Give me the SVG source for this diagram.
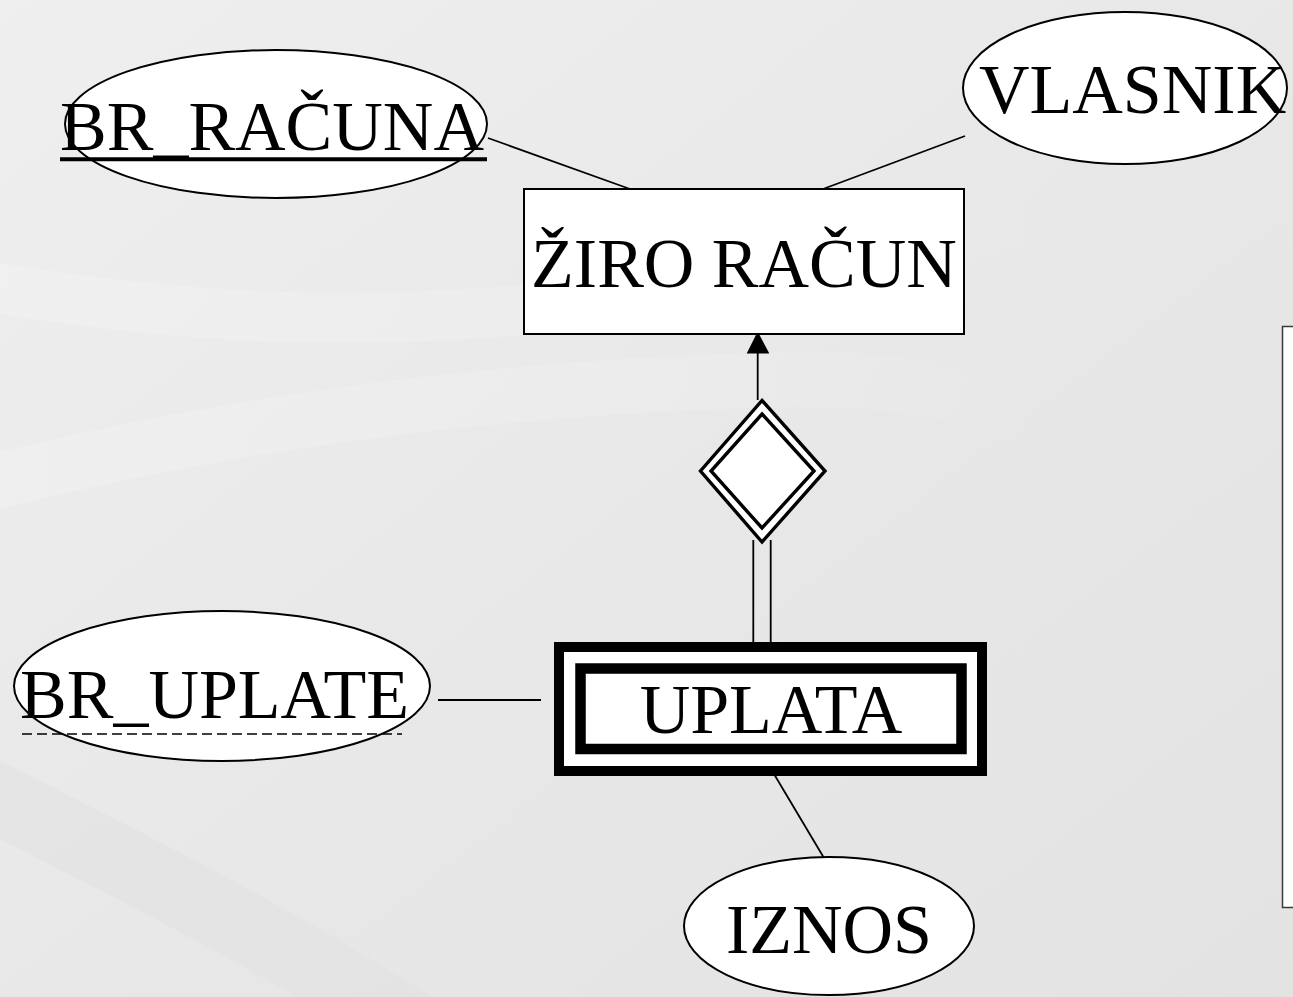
<svg xmlns="http://www.w3.org/2000/svg" width="1293" height="997" viewBox="0 0 1293 997">
  <defs>
    <linearGradient id="bgGrad" x1="0" y1="0" x2="1" y2="1">
      <stop offset="0" stop-color="#efefef"/>
      <stop offset="0.5" stop-color="#e8e8e8"/>
      <stop offset="1" stop-color="#e3e3e3"/>
    </linearGradient>
    <linearGradient id="fadeRight" x1="0" y1="0" x2="1" y2="0">
      <stop offset="0" stop-color="#f2f2f2" stop-opacity="1"/>
      <stop offset="0.7" stop-color="#f2f2f2" stop-opacity="0.5"/>
      <stop offset="1" stop-color="#f2f2f2" stop-opacity="0"/>
    </linearGradient>
    <style>
      .lbl { font-family: "Liberation Serif", "Times New Roman", serif; font-size: 70px; fill: #000; }
      .attr { fill: #fff; stroke: #000; stroke-width: 2; }
      .ent { fill: #fff; stroke: #000; stroke-width: 2; }
      .link { stroke: #000; stroke-width: 1.8; fill: none; }
      .swoosh { fill: none; stroke-linecap: butt; }
    </style>
  </defs>

  <!-- slide background with soft swooshes -->
  <g id="background">
    <rect x="0" y="0" width="1293" height="997" fill="url(#bgGrad)"/>
    <path class="swoosh" d="M -20 285 C 180 320 380 330 620 300 C 760 285 900 250 1050 215" stroke="url(#fadeRight)" stroke-width="50" opacity="0.6"/>
    <path class="swoosh" d="M -20 485 C 200 430 450 390 760 380 C 880 376 960 390 1040 420" stroke="url(#fadeRight)" stroke-width="55" opacity="0.55"/>
    <path class="swoosh" d="M -40 780 C 120 860 260 930 420 1030" stroke="#dfdfdf" stroke-width="70" opacity="0.45"/>
  </g>

  <!-- connectors -->
  <g id="connectors">
    <line class="link" x1="488" y1="138" x2="630" y2="189"/>
    <line class="link" x1="965" y1="136" x2="823" y2="189"/>
    <line class="link" x1="438" y1="700" x2="541" y2="700"/>
    <line class="link" x1="774" y1="774" x2="824" y2="858"/>
    <line class="link" x1="757.7" y1="352" x2="757.7" y2="400"/>
    <polygon points="757.7,331.5 746.7,353.5 769.3,353.5" fill="#000"/>
    <line class="link" x1="753.3" y1="540" x2="753.3" y2="644" stroke-width="2"/>
    <line class="link" x1="770.7" y1="540" x2="770.7" y2="644" stroke-width="2"/>
  </g>

  <g id="attr-br-racuna">
    <ellipse class="attr" cx="276" cy="124" rx="211" ry="74"/>
    <text class="lbl" x="60" y="150">BR_RAČUNA</text>
    <line x1="60" y1="159.3" x2="487" y2="159.3" stroke="#000" stroke-width="4"/>
  </g>

  <g id="attr-vlasnik">
    <ellipse class="attr" cx="1125" cy="88" rx="162" ry="76"/>
    <text class="lbl" x="979" y="113">VLASNIK</text>
  </g>

  <g id="entity-ziro-racun">
    <rect class="ent" x="524" y="189" width="440" height="145"/>
    <text class="lbl" x="744" y="287" text-anchor="middle">ŽIRO RAČUN</text>
  </g>

  <g id="relationship-identifying">
    <polygon points="762,400.5 825,471 762,542 700.5,471" fill="#fff" stroke="#000" stroke-width="3.4"/>
    <polygon points="762,414 814,471 762,528 711,471" fill="#fff" stroke="#000" stroke-width="3.4"/>
  </g>

  <g id="entity-uplata">
    <rect x="559" y="647" width="423" height="124" fill="#fff" stroke="#000" stroke-width="10"/>
    <rect x="580.5" y="668.5" width="381" height="80.5" fill="#fff" stroke="#000" stroke-width="10.5"/>
    <text class="lbl" x="771" y="733" text-anchor="middle">UPLATA</text>
  </g>

  <g id="attr-br-uplate">
    <ellipse class="attr" cx="222" cy="686" rx="208" ry="75"/>
    <text class="lbl" x="20" y="718">BR_UPLATE</text>
    <line x1="22" y1="734" x2="402" y2="734" stroke="#000" stroke-width="1.6" stroke-dasharray="10,5"/>
  </g>

  <g id="attr-iznos">
    <ellipse class="attr" cx="829" cy="926" rx="145" ry="69"/>
    <text class="lbl" x="829" y="953" text-anchor="middle">IZNOS</text>
  </g>

  <g id="side-panel">
    <rect x="1282.5" y="326.5" width="20" height="581" fill="#fff" stroke="#3a3a3a" stroke-width="1.5"/>
  </g>
</svg>
